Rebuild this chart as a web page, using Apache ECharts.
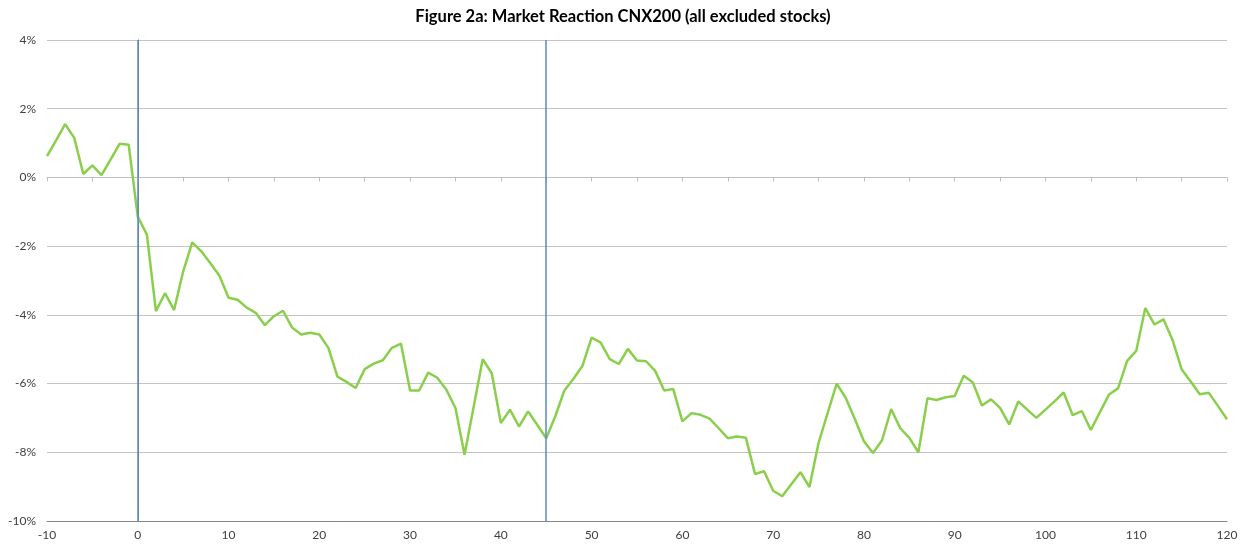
<!DOCTYPE html>
<html>
<head>
<meta charset="utf-8">
<script src="https://cdn.jsdelivr.net/npm/echarts@6/dist/echarts.min.js"></script>
<style>
html,body{margin:0;padding:0;background:#fff;}
#chart{width:1246px;height:550px;}
</style>
</head>
<body>
<div id="chart"></div>
<script>
const titleText = 'Figure 2a: Market Reaction CNX200 (all excluded stocks)';
const dayStart = -10;
const returnsPct = [
  0.62, 1.08, 1.55, 1.15, 0.10, 0.35, 0.07, 0.52, 0.98, 0.95,
  -1.14, -1.66, -3.89, -3.37, -3.86, -2.74, -1.89, -2.15, -2.50, -2.86,
  -3.50, -3.56, -3.79, -3.94, -4.30, -4.04, -3.88, -4.37, -4.57, -4.52,
  -4.57, -4.96, -5.80, -5.95, -6.13, -5.58, -5.42, -5.32, -4.96, -4.84,
  -6.20, -6.20, -5.68, -5.83, -6.18, -6.71, -8.07, -6.68, -5.29, -5.70,
  -7.15, -6.76, -7.25, -6.81, -7.20, -7.59, -6.95, -6.20, -5.86, -5.48,
  -4.66, -4.81, -5.29, -5.43, -4.99, -5.33, -5.35, -5.63, -6.20, -6.16,
  -7.10, -6.86, -6.91, -7.02, -7.30, -7.59, -7.54, -7.58, -8.63, -8.55,
  -9.12, -9.28, -8.93, -8.58, -9.01, -7.73, -6.86, -6.00, -6.42, -7.03,
  -7.68, -8.02, -7.65, -6.74, -7.30, -7.58, -8.00, -6.43, -6.48, -6.40,
  -6.36, -5.77, -5.97, -6.64, -6.46, -6.71, -7.19, -6.52, -6.76, -7.00,
  -6.76, -6.52, -6.26, -6.92, -6.80, -7.35, -6.83, -6.32, -6.14, -5.34,
  -5.05, -3.80, -4.28, -4.13, -4.73, -5.58, -5.94, -6.31, -6.27, -6.65,
  -7.04
];
const eventDays = [0, 45];
const xMin = -10, xMax = 120, xStep = 10;
const yMin = -10, yMax = 4, yStep = 2;

const seriesData = returnsPct.map((v, i) => [dayStart + i, v]);
const FONT = 'Lato, "Open Sans", sans-serif';

const chart = echarts.init(document.getElementById('chart'));
chart.setOption({
  animation: false,
  backgroundColor: '#ffffff',
  title: {
    text: titleText,
    left: 'center',
    top: 3,
    textStyle: { fontFamily: FONT, fontSize: 16.5, fontWeight: 'bold', color: '#000' }
  },
  grid: { left: 47, right: 19, top: 40, bottom: 29, containLabel: false },
  xAxis: [
    {
      type: 'value', min: xMin, max: xMax, interval: xStep, position: 'bottom',
      axisLine: { onZero: false, lineStyle: { color: '#868686', width: 1 } },
      axisTick: { show: false },
      axisLabel: { fontFamily: FONT, fontSize: 12, color: '#404040', margin: 8 },
      splitLine: { show: false }
    },
    {
      type: 'value', min: xMin, max: xMax, interval: 5, position: 'bottom',
      axisLine: { onZero: true, onZeroAxisIndex: 0, lineStyle: { color: '#BFBFBF', width: 1 } },
      axisTick: { show: true, length: 4, lineStyle: { color: '#BFBFBF' } },
      axisLabel: { show: false },
      splitLine: { show: false }
    }
  ],
  yAxis: [
    {
      type: 'value', min: yMin, max: yMax, interval: yStep,
      axisLine: { show: true, lineStyle: { color: '#BFBFBF', width: 1 } },
      axisTick: { show: false },
      axisLabel: { fontFamily: FONT, fontSize: 12, color: '#404040', margin: 11, formatter: '{value}%' },
      splitLine: { show: true, lineStyle: { color: '#C4C4C4', width: 1 } }
    },
    {
      type: 'value', min: yMin, max: yMax, interval: yStep, position: 'right',
      axisLine: { show: true, lineStyle: { color: '#868686', width: 1 } },
      axisTick: { show: false }, axisLabel: { show: false }, splitLine: { show: false }
    }
  ],
  series: [
    {
      type: 'line',
      data: seriesData,
      xAxisIndex: 0, yAxisIndex: 0,
      showSymbol: false,
      lineStyle: { color: '#8ACF4B', width: 2.5 },
      markLine: {
        silent: true,
        symbol: 'none',
        label: { show: false },
        lineStyle: { color: '#5B87C6', width: 1.5, type: 'solid' },
        data: eventDays.map(d => ({ xAxis: d }))
      },
      z: 3
    }
  ]
});
</script>
</body>
</html>
